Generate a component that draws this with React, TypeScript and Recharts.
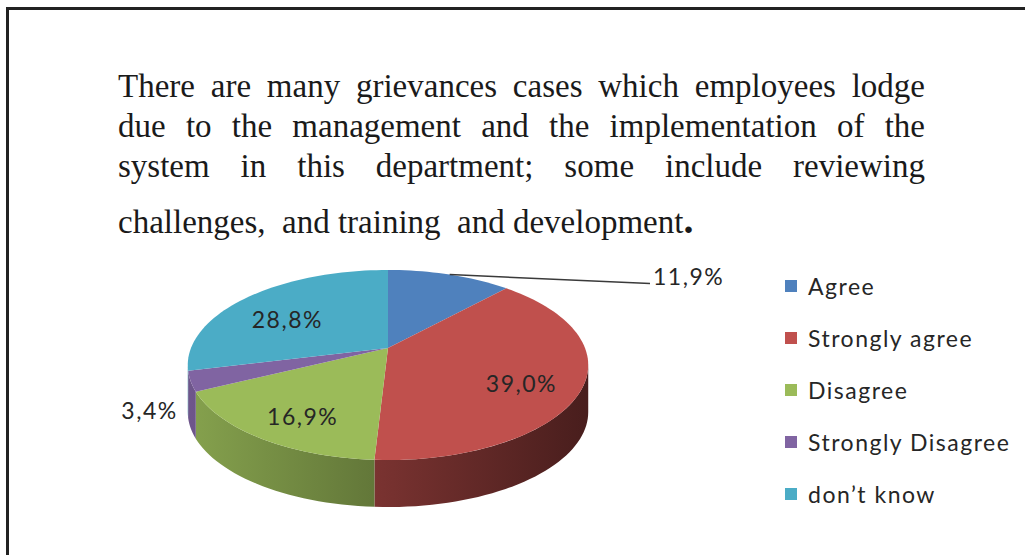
import React from 'react';
import { PieChart, Pie, Cell, Legend } from 'recharts';

// survey answers (percent of respondents)
const categories = ['Agree', 'Strongly agree', 'Disagree', 'Strongly Disagree', 'don’t know'];
const shares = [11.9, 39.0, 16.9, 3.4, 28.8];
const colors = ['#4F81BD', '#C0504D', '#9BBB59', '#8064A2', '#4BACC6'];

const titleLines = [
  'There are many grievances cases which employees lodge',
  'due to the management and the implementation of the',
  'system in this department; some include reviewing',
];
const titleLast = 'challenges,  and training  and development';

const data = categories.map((name, i) => ({ name, value: shares[i] }));

// fake 3D: squashed, perspective-projected disc with a vertical wall
const TILT = 0.467;
const PERSP = 0.179;
const DEPTH = 47;
const RAD = Math.PI / 180;
const LABEL_FONT = 'Lato, "Open Sans", sans-serif';

function project(cx: number, cy: number, r: number, deg: number, f = 1) {
  const u = f * Math.cos(deg * RAD);
  const v = f * Math.sin(deg * RAD);
  const d = 1 + PERSP * v;
  return [cx + (r * u) / d, cy - (r * TILT * v) / d];
}

function arc(cx: number, cy: number, r: number, from: number, to: number, dy = 0) {
  const n = Math.max(2, Math.ceil(Math.abs(to - from) / 2));
  const pts: string[] = [];
  for (let i = 0; i <= n; i++) {
    const a = from + ((to - from) * i) / n;
    const [x, y] = project(cx, cy, r, a);
    pts.push(`${x.toFixed(2)},${(y + dy).toFixed(2)}`);
  }
  return pts;
}

function shade(hex: string, k: number) {
  const n = parseInt(hex.slice(1), 16);
  const c = [(n >> 16) & 255, (n >> 8) & 255, n & 255].map((v) => Math.round(v * k));
  return `rgb(${c[0]},${c[1]},${c[2]})`;
}

const Slice3D = (props: any) => {
  const { cx, cy, outerRadius, startAngle, endAngle, fill } = props;
  const lo = Math.min(startAngle, endAngle);
  const hi = Math.max(startAngle, endAngle);
  const sil = Math.asin(PERSP) / RAD;
  const wLo = Math.max(lo, -180 + sil);
  const wHi = Math.min(hi, -sil);
  const id = `side-${String(fill).replace('#', '')}`;
  const top = `M${cx},${cy} L${arc(cx, cy, outerRadius, startAngle, endAngle).join(' L')} Z`;
  let wall = null;
  if (wHi > wLo) {
    const upper = arc(cx, cy, outerRadius, wHi, wLo);
    const lower = arc(cx, cy, outerRadius, wLo, wHi, DEPTH);
    wall = (
      <>
        <defs>
          <linearGradient id={id} gradientUnits="userSpaceOnUse" x1={cx - outerRadius} x2={cx + outerRadius} y1={0} y2={0}>
            <stop offset="0%" stopColor={shade(fill, 0.86)} />
            <stop offset="100%" stopColor={shade(fill, 0.38)} />
          </linearGradient>
        </defs>
        <path d={`M${upper.join(' L')} L${lower.join(' L')} Z`} fill={`url(#${id})`} />
      </>
    );
  }
  return (
    <g>
      {wall}
      <path d={top} fill={fill} />
    </g>
  );
};

const fmt = (p: number) => `${(p * 100).toFixed(1).replace('.', ',')}%`;

const renderLabel = (props: any) => {
  const { cx, cy, outerRadius, midAngle, percent } = props;
  const txt = { fontFamily: LABEL_FONT, fontSize: 23, letterSpacing: 1.5, fill: '#262626' };
  if (percent < 0.15) {
    const [rx, ry] = project(cx, cy, outerRadius, midAngle);
    if (Math.sin(midAngle * RAD) > 0) {
      const ex = cx + outerRadius * 1.33;
      const ey = ry + 9;
      return (
        <g>
          <line x1={rx} y1={ry} x2={ex} y2={ey} stroke="#3a3a3a" strokeWidth={1.5} />
          <text x={ex + 3} y={ey + 1} textAnchor="start" style={txt}>{fmt(percent)}</text>
        </g>
      );
    }
    return (
      <text x={rx - 13} y={ry + 38} textAnchor="end" style={txt}>{fmt(percent)}</text>
    );
  }
  const [x, y] = project(cx, cy, outerRadius, midAngle, 0.7);
  return (
    <text x={x} y={y + 17} textAnchor="middle" style={txt}>{fmt(percent)}</text>
  );
};

const renderLegend = (props: any) => {
  const items = [...(props.payload || [])].sort(
    (a: any, b: any) => categories.indexOf(a.value) - categories.indexOf(b.value)
  );
  return (
    <div style={{ fontFamily: LABEL_FONT, fontSize: 23, letterSpacing: 1.5, color: '#262626' }}>
      {items.map((e: any) => (
        <div key={e.value} style={{ display: 'flex', alignItems: 'center', height: 52, whiteSpace: 'nowrap' }}>
          <span style={{ width: 12, height: 12, background: e.color, marginRight: 11, display: 'inline-block' }} />
          <span>{e.value}</span>
        </div>
      ))}
    </div>
  );
};

const lineStyle: React.CSSProperties = {
  position: 'absolute',
  left: 118,
  width: 807,
  fontFamily: '"Liberation Serif", "Times New Roman", serif',
  fontSize: 33,
  lineHeight: '40px',
  color: '#1a1a1a',
  textAlign: 'justify',
  textAlignLast: 'justify',
};

export default function App() {
  return (
    <div style={{ position: 'absolute', left: 0, top: 0, width: 1025, height: 555, background: '#fff', overflow: 'hidden' }}>
      <div style={{ position: 'absolute', left: 6, top: 7, width: 1030, height: 560, borderTop: '3px solid #222', borderLeft: '3px solid #222' }} />
      {titleLines.map((t, i) => (
        <div key={i} style={{ ...lineStyle, top: 66 + i * 40 }}>{t}</div>
      ))}
      <div style={{ ...lineStyle, top: 200, textAlign: 'left', textAlignLast: 'left', whiteSpace: 'pre' }}>
        {titleLast}
        <span style={{ fontWeight: 'bold', fontSize: 40 }}>.</span>
      </div>
      <div style={{ position: 'absolute', left: 0, top: 0 }}>
        <PieChart width={1025} height={555} margin={{ top: 0, right: 0, bottom: 0, left: 0 }}>
          <Pie
            data={data}
            dataKey="value"
            nameKey="name"
            cx={388}
            cy={348}
            outerRadius={197}
            startAngle={90}
            endAngle={-270}
            stroke="none"
            isAnimationActive={false}
            shape={Slice3D}
            activeShape={Slice3D}
            inactiveShape={Slice3D}
            label={renderLabel}
            labelLine={false}
          >
            {data.map((d, i) => (
              <Cell key={d.name} fill={colors[i]} />
            ))}
          </Pie>
          <Legend
            layout="vertical"
            align="right"
            verticalAlign="top"
            content={renderLegend}
            wrapperStyle={{ left: 785, top: 260, width: 240 }}
          />
        </PieChart>
      </div>
    </div>
  );
}
